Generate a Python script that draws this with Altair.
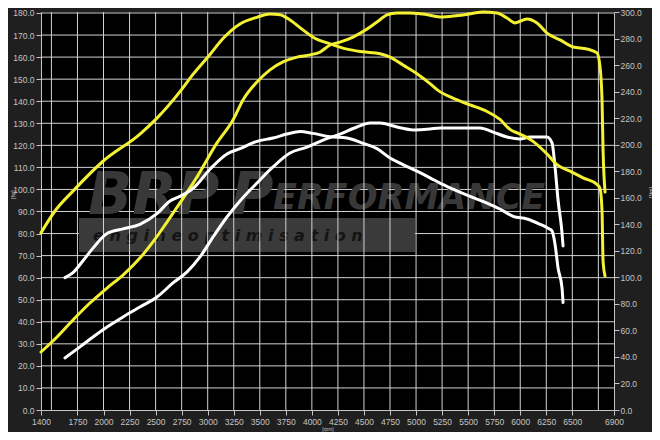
import altair as alt
import pandas as pd

# ---------------- data ----------------
# Tuned power [hp] (yellow, left axis)
tuned_hp_rpm = [1400, 1554, 1707, 1870, 2034, 2187, 2350, 2475, 2609, 2734, 2897, 3089, 3243,
                3339, 3473, 3598, 3723, 3857, 3982, 4078, 4174, 4270, 4395, 4530, 4625, 4721,
                4817, 4942, 5067, 5259, 5451, 5643, 5777, 5873, 5950, 6065, 6161, 6257, 6382,
                6507, 6641, 6737, 6766, 6785, 6795, 6814]
tuned_hp = [26.3, 33.1, 40.8, 48.5, 55.3, 61.2, 68.9, 76.2, 85.2, 93.9, 105.6, 121.1, 131.5,
            140.6, 148.7, 154.2, 157.8, 160.0, 161.0, 162.3, 165.5, 166.8, 169.1, 172.7, 175.9, 179.1,
            180.0, 180.0, 179.5, 178.2, 179.1, 180.4, 180.0, 177.7, 175.5, 177.3, 175.5, 170.9, 167.8,
            164.6, 163.7, 161.9, 155.5, 140.6, 117.9, 98.8]

# Tuned torque [Nm] (yellow, right axis)
tuned_nm_rpm = [1400, 1534, 1707, 1995, 2350, 2513, 2734, 2859, 3022, 3147, 3310, 3473, 3598,
                3694, 3790, 3915, 4011, 4174, 4337, 4491, 4654, 4750, 4875, 5009, 5134, 5201,
                5355, 5518, 5681, 5806, 5902, 5998, 6123, 6257, 6353, 6478, 6603, 6737, 6766,
                6785, 6795, 6814]
tuned_nm = [133.5, 150.0, 165.0, 187.5, 208.0, 220.0, 240.0, 253.0, 268.0, 280.0, 291.0, 296.0, 298.5,
            298.0, 294.0, 286.5, 281.0, 276.0, 272.0, 270.0, 268.5, 266.0, 260.0, 253.5, 246.0, 241.5,
            235.0, 230.0, 225.0, 219.0, 211.5, 208.0, 202.5, 193.0, 185.0, 180.0, 175.0, 170.0, 167.0,
            150.0, 112.5, 101.0]

# Stock power [hp] (white, left axis)
stock_hp_rpm = [1630, 1774, 1899, 2034, 2187, 2350, 2513, 2667, 2802, 2926, 3051, 3185, 3310,
                3473, 3627, 3790, 3953, 4107, 4270, 4433, 4558, 4654, 4817, 4971, 5134, 5230,
                5422, 5614, 5739, 5873, 5998, 6094, 6257, 6305, 6334, 6363, 6401, 6411]
stock_hp = [23.6, 28.6, 33.1, 37.6, 42.2, 46.7, 51.2, 57.6, 62.6, 69.4, 78.4, 87.5, 94.8,
            102.9, 110.2, 116.5, 119.2, 122.4, 125.1, 128.3, 130.1, 130.1, 128.3, 127.0, 127.4, 127.9,
            127.9, 127.9, 126.0, 123.8, 122.9, 123.8, 123.8, 121.1, 110.2, 95.2, 80.3, 74.4]

# Stock torque [Nm] (white, right axis)
stock_nm_rpm = [1630, 1707, 1803, 1899, 2034, 2187, 2350, 2513, 2638, 2734, 2859, 3022, 3185,
                3310, 3473, 3627, 3761, 3886, 4011, 4174, 4337, 4491, 4625, 4750, 4875, 5009,
                5134, 5230, 5355, 5518, 5681, 5806, 5931, 6065, 6190, 6267, 6305, 6334, 6363,
                6401, 6411]
stock_nm = [99.8, 103.5, 112.5, 122.0, 133.0, 136.5, 140.0, 148.0, 157.5, 161.0, 167.0, 181.5, 193.0,
            197.0, 202.5, 205.0, 208.0, 210.0, 208.5, 206.0, 205.0, 201.0, 197.0, 190.0, 185.0, 180.0,
            175.0, 171.0, 166.5, 161.0, 156.0, 151.5, 146.0, 144.0, 140.0, 137.0, 135.0, 125.0, 107.0,
            92.0, 81.0]

x_label_values = [1400, 1750, 2000, 2250, 2500, 2750, 3000, 3250, 3500, 3750, 4000, 4250,
                  4500, 4750, 5000, 5250, 5500, 5750, 6000, 6250, 6500, 6900]
x_grid_values = [1500, 1750, 2000, 2250, 2500, 2750, 3000, 3250, 3500, 3750, 4000, 4250,
                 4500, 4750, 5000, 5250, 5500, 5750, 6000, 6250, 6500, 6750]
left_tick_values = [0, 10, 20, 30, 40, 50, 60, 70, 80, 90, 100, 110, 120, 130, 140, 150, 160, 170, 180]
left_grid_values = [10, 20, 30, 40, 50, 60, 70, 80, 90, 100, 110, 120, 130, 140, 150, 160, 170, 180]
right_tick_values = [0, 20, 40, 60, 80, 100, 120, 140, 160, 180, 200, 220, 240, 260, 280, 300]

# ---------------- styling ----------------
BG = "#1f1f1f"
LABEL = "#c4c4c4"
GRID = "#d2d2d2"
YELLOW = "#f4f032"
WHITE = "#ffffff"
FONT = "Liberation Sans"
LFS = 8.5

x_dom = [1400, 6900]
left_dom = [0, 180.45]
right_dom = [0, 300]

x_axis = alt.Axis(values=x_label_values, format="d", labelColor=LABEL, labelFontSize=LFS,
                  labelFont=FONT, tickColor=LABEL, tickSize=5, domainColor=LABEL,
                  grid=False, labelOverlap=False, labelPadding=2, labelFlush=False,
                  title="[rpm]", titleFontSize=5, titleColor=LABEL, titleFont=FONT,
                  titlePadding=1, titleFontWeight="normal")

left_axis = alt.Axis(values=left_tick_values, format=".1f", orient="left", labelColor=LABEL,
                     labelFontSize=LFS, labelFont=FONT, tickColor=LABEL, tickSize=5,
                     domainColor=LABEL, grid=False, labelPadding=2, labelFlush=False,
                     labelOverlap=False,
                     title="[hp]", titleFontSize=5, titleColor=LABEL, titleFont=FONT,
                     titleFontWeight="normal", titleAngle=270, titleX=-29, titleY=182,
                     titleAlign="center", titleBaseline="middle")

right_axis = alt.Axis(values=right_tick_values, format=".1f", orient="right", labelColor=LABEL,
                      labelFontSize=LFS, labelFont=FONT, tickColor=LABEL, tickSize=5,
                      domainColor=LABEL, grid=False, labelPadding=1, labelFlush=False,
                      labelOverlap=False,
                      title="[Nm]", titleFontSize=5, titleColor=LABEL, titleFont=FONT,
                      titleFontWeight="normal", titleAngle=270, titleX=36, titleY=180,
                      titleAlign="center", titleBaseline="middle")


def X(field):
    return alt.X(f"{field}:Q", scale=alt.Scale(domain=x_dom, nice=False, zero=False),
                 axis=x_axis)


def Y_left(field):
    return alt.Y(f"{field}:Q", scale=alt.Scale(domain=left_dom, nice=False, zero=True),
                 axis=left_axis)


def Y_right(field):
    return alt.Y(f"{field}:Q", scale=alt.Scale(domain=right_dom, nice=False, zero=True),
                 axis=right_axis)


# ---------------- frames ----------------
df_tuned_hp = pd.DataFrame({"rpm": tuned_hp_rpm, "hp": tuned_hp})
df_stock_hp = pd.DataFrame({"rpm": stock_hp_rpm, "hp": stock_hp})
df_tuned_nm = pd.DataFrame({"rpm": tuned_nm_rpm, "nm": tuned_nm})
df_stock_nm = pd.DataFrame({"rpm": stock_nm_rpm, "nm": stock_nm})
df_xgrid = pd.DataFrame({"rpm": x_grid_values})
df_ygrid = pd.DataFrame({"hp": left_grid_values})
one = pd.DataFrame({"k": [0]})

# ---------------- watermark (background logo) ----------------
wm_color = "#383838"
wm_brp = alt.Chart(one).mark_text(text="BRP", font="DejaVu Sans", fontSize=58, fontWeight="bold",
                                  fontStyle="italic", color=wm_color, align="left",
                                  baseline="alphabetic").encode(x=alt.value(47), y=alt.value(202))
wm_p = alt.Chart(one).mark_text(text="P", font="DejaVu Sans", fontSize=58, fontWeight="bold",
                                fontStyle="italic", color=wm_color, align="left",
                                baseline="alphabetic").encode(x=alt.value(190), y=alt.value(202))
wm_perf = alt.Chart(one).mark_text(text="ERFORMANCE", font="DejaVu Sans", fontSize=35,
                                   fontWeight="bold", fontStyle="italic", color=wm_color,
                                   align="left", baseline="alphabetic").encode(
    x=alt.value(232), y=alt.value(197))
wm_band = alt.Chart(one).mark_rect(color="#3a3a3a").encode(
    x=alt.value(38), x2=alt.value(374), y=alt.value(206), y2=alt.value(240))
wm_sub = alt.Chart(one).mark_text(text="e n g i n e   o p t i m i s a t i o n", font="DejaVu Sans",
                                  fontSize=16, fontWeight="bold", fontStyle="italic",
                                  color="#141414", align="left", baseline="middle").encode(
    x=alt.value(52), y=alt.value(224))

# ---------------- grid ----------------
vgrid = alt.Chart(df_xgrid).mark_rule(color=GRID, strokeWidth=1).encode(x=X("rpm"))
hgrid = alt.Chart(df_ygrid).mark_rule(color=GRID, strokeWidth=1).encode(y=Y_left("hp"))

# ---------------- curves ----------------
line_kw = dict(strokeWidth=3, interpolate="monotone", strokeCap="round", strokeJoin="round")
p_tuned = alt.Chart(df_tuned_hp).mark_line(color=YELLOW, **line_kw).encode(
    x=X("rpm"), y=Y_left("hp"))
p_stock = alt.Chart(df_stock_hp).mark_line(color=WHITE, **line_kw).encode(
    x=X("rpm"), y=Y_left("hp"))
t_tuned = alt.Chart(df_tuned_nm).mark_line(color=YELLOW, **line_kw).encode(
    x=X("rpm"), y=Y_right("nm"))
t_stock = alt.Chart(df_stock_nm).mark_line(color=WHITE, **line_kw).encode(
    x=X("rpm"), y=Y_right("nm"))

left_group = alt.layer(hgrid, wm_band, wm_brp, wm_p, wm_perf, wm_sub, vgrid, p_stock, p_tuned)
right_group = alt.layer(t_stock, t_tuned)

chart = alt.layer(left_group, right_group).resolve_scale(y="independent").properties(
    width=573, height=398,
    autosize=alt.AutoSizeParams(type="none"),
    padding={"left": 33, "top": 4, "right": 38, "bottom": 22},
    background=BG,
).configure_view(fill="#000000", stroke=None)

chart.save("out.html", embed_options={"renderer": "svg", "actions": False})
